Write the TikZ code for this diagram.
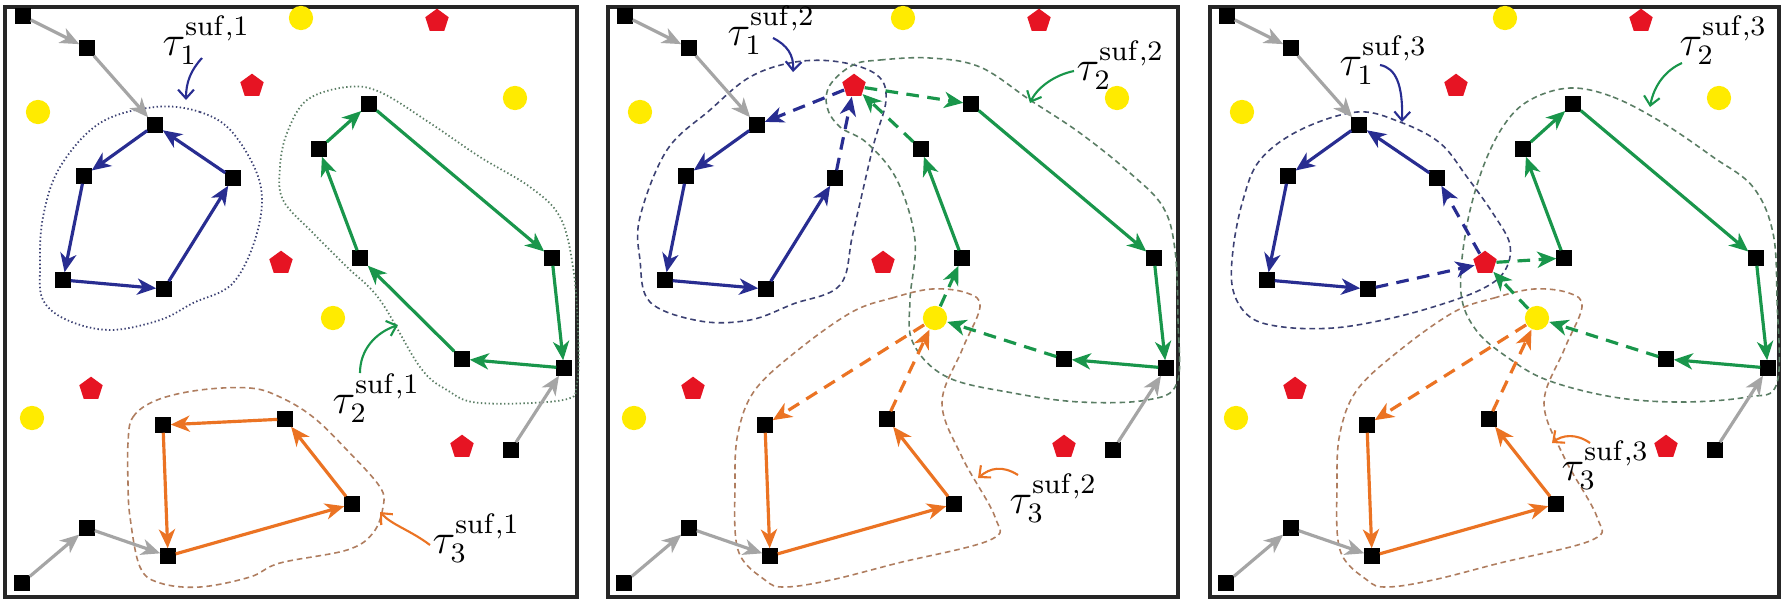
\documentclass[tikz,border=0pt]{standalone}
\usetikzlibrary{arrows.meta,shapes.geometric}
\definecolor{pblue}{RGB}{40,45,145}
\definecolor{pgreen}{RGB}{25,150,75}
\definecolor{porange}{RGB}{235,115,35}
\definecolor{pgray}{RGB}{165,165,165}
\definecolor{pyellow}{RGB}{255,235,0}
\definecolor{pred}{RGB}{230,20,35}
\definecolor{bdblue}{RGB}{60,65,115}
\definecolor{bdgreen}{RGB}{90,125,100}
\definecolor{bdorange}{RGB}{175,125,95}
\tikzset{
 sq/.style={fill=black, minimum size=4.4pt, inner sep=0pt, outer sep=0pt},
 yel/.style={circle, fill=pyellow, minimum size=6.9pt, inner sep=0pt},
 redp/.style={regular polygon, regular polygon sides=5, fill=pred, minimum size=7pt, inner sep=0pt},
 arrtip/.style={-{Stealth[length=5.4pt,width=4.6pt,inset=1.6pt]}},
 mv/.style={arrtip, line width=0.9pt},
 grayarr/.style={mv, draw=pgray},
 blu/.style={mv, draw=pblue},
 grn/.style={mv, draw=pgreen},
 org/.style={mv, draw=porange},
 dsh/.style={dash pattern=on 3.6pt off 2.4pt},
 bd/.style={line width=0.45pt, dash pattern=on 1.6pt off 1.1pt},
 dotb/.style={line width=0.5pt, dash pattern=on 0.4pt off 0.7pt},
 ptr/.style={line width=0.6pt, -{Straight Barb[length=2.5pt,width=4.5pt]}},
 lab/.style={font=\large, inner sep=0pt, anchor=base west},
 panelframe/.style={line width=1.1pt, draw=black!85},
}
\newcommand\EnvNodes{%
 \node[sq] (g1) at (23,16) {};
 \node[sq] (g2) at (87,48) {};
 \node[sq] (b1) at (155,125) {};
 \node[sq] (b2) at (84,176) {};
 \node[sq] (b3) at (63,280) {};
 \node[sq] (b4) at (164,289) {};
 \node[sq] (b5) at (233,178) {};
 \node[sq] (k1) at (369,104) {};
 \node[sq] (k2) at (319,149) {};
 \node[sq] (k3) at (360,258) {};
 \node[sq] (k4) at (552,258) {};
 \node[sq] (k5) at (462,359) {};
 \node[sq] (k6) at (564,368) {};
 \node[sq] (o1) at (163,425) {};
 \node[sq] (o2) at (285,419) {};
 \node[sq] (o3) at (352,504) {};
 \node[sq] (o4) at (168,556) {};
 \node[sq] (g3) at (87,528) {};
 \node[sq] (g4) at (22,583) {};
 \node[sq] (g5) at (511,450) {};
 \node[yel] (y1) at (301,18) {};
 \node[yel] (y2) at (38,112) {};
 \node[yel] (y3) at (515,98) {};
 \node[yel] (y4) at (333,318) {};
 \node[yel] (y5) at (32,418) {};
 \node[redp] (r0) at (437,21) {};
 \node[redp] (r1) at (252,86) {};
 \node[redp] (r2) at (281,263) {};
 \node[redp] (r3) at (91,389) {};
 \node[redp] (r4) at (462,447) {};
 \draw[grayarr] (g1) -- (g2);
 \draw[grayarr] (g2) -- (b1);
 \draw[grayarr] (g4) -- (g3);
 \draw[grayarr] (g3) -- (o4);
 \draw[grayarr] (g5) -- (k6);
}
\newcommand\OrangeBd{%
 \draw[bd, bdorange] plot[smooth cycle, tension=0.6] coordinates {(250,312) (290,298) (330,289) (365,293) (378,307) (360,350) (340,403) (360,457) (393,517) (388,540) (296,563) (229,580) (183,587) (163,580) (136,550) (133,483) (136,433) (153,390) (196,350)};
}
\begin{document}
\begin{tikzpicture}[x=0.01cm,y=-0.01cm]
\fill[white] (0,0) rectangle (1787,599);
\useasboundingbox (0,0) rectangle (1787,599);
% ---------------- panel 1
\begin{scope}[name prefix=A]
 \draw[panelframe] (5,7) rectangle (577,597);
 \draw[dotb, bdblue] plot[smooth cycle, tension=0.6] coordinates {(155,107) (200,112) (233,133) (260,183) (257,233) (233,283) (193,303) (160,320) (110,330) (67,320) (43,300) (40,267) (43,217) (60,167) (100,123)};
 \draw[dotb, bdgreen] plot[smooth cycle, tension=0.6] coordinates {(347,87) (380,92) (430,123) (480,157) (530,187) (560,217) (573,267) (578,330) (577,383) (563,400) (480,403) (447,390) (420,367) (380,300) (347,267) (313,233) (283,200) (280,167) (287,133) (307,100)};
 \draw[bd, bdorange] plot[smooth cycle, tension=0.6] coordinates {(128,443) (133,417) (157,400) (200,390) (250,388) (280,397) (313,417) (347,450) (380,487) (383,507) (373,533) (347,550) (280,563) (250,577) (200,587) (160,583) (140,567) (130,517) (128,483)};
 \EnvNodes
 \foreach \a/\b in {b1/b2,b2/b3,b3/b4,b4/b5,b5/b1} \draw[blu] (\a) -- (\b);
 \foreach \a/\b in {k6/k5,k5/k3,k3/k2,k2/k1,k1/k4,k4/k6} \draw[grn] (\a) -- (\b);
 \foreach \a/\b in {o4/o3,o3/o2,o2/o1,o1/o4} \draw[org] (\a) -- (\b);
 \node[lab] (l1) at (162,55) {$\tau_1^{\mathrm{suf},1}$};
 \node[lab] (l2) at (332,413) {$\tau_2^{\mathrm{suf},1}$};
 \node[lab] (l3) at (432,553) {$\tau_3^{\mathrm{suf},1}$};
 \coordinate (s1) at (202,58); \coordinate (e1) at (186,100);
 \coordinate (s2) at (360,373); \coordinate (e2) at (398,325);
 \coordinate (s3) at (430,545); \coordinate (e3) at (380,512);
 \draw[ptr, pblue] (s1) .. controls (191,70) and (186,82) .. (e1);
 \draw[ptr, pgreen] (s2) .. controls (360,350) and (375,333) .. (e2);
 \draw[ptr, porange] (s3) .. controls (410,530) and (392,525) .. (e3);
\end{scope}
% ---------------- panel 2
\begin{scope}[shift={(602,0)}, name prefix=B]
 \draw[panelframe] (6,7) rectangle (576,597);
 \draw[bd, bdblue] plot[smooth cycle, tension=0.6] coordinates {(148,77) (193,62) (238,62) (275,75) (284,100) (271,147) (251,233) (238,285) (191,304) (148,320) (98,321) (48,302) (38,260) (38,217) (65,150) (108,110)};
 \draw[bd, bdgreen] plot[smooth cycle, tension=0.6] coordinates {(251,65) (278,60) (328,58) (378,67) (428,100) (478,133) (528,173) (561,207) (573,250) (576,320) (575,383) (545,400) (478,402) (411,393) (345,377) (311,343) (308,300) (313,240) (295,180) (265,143) (238,127) (225,107) (228,85)};
 \OrangeBd
 \EnvNodes
 \foreach \a/\b in {b1/b2,b2/b3,b3/b4,b4/b5} \draw[blu] (\a) -- (\b);
 \foreach \a/\b in {b5/r1,r1/b1} \draw[blu, dsh] (\a) -- (\b);
 \foreach \a/\b in {k6/k5,k3/k2,k1/k4,k4/k6} \draw[grn] (\a) -- (\b);
 \foreach \a/\b in {k5/y4,y4/k3,k2/r1,r1/k1} \draw[grn, dsh] (\a) -- (\b);
 \foreach \a/\b in {o4/o3,o3/o2,o1/o4} \draw[org] (\a) -- (\b);
 \foreach \a/\b in {o2/y4,y4/o1} \draw[org, dsh] (\a) -- (\b);
 \node[lab] (l1) at (125,45) {$\tau_1^{\mathrm{suf},2}$};
 \node[lab] (l2) at (474,80) {$\tau_2^{\mathrm{suf},2}$};
 \node[lab] (l3) at (407,513) {$\tau_3^{\mathrm{suf},2}$};
 \coordinate (s1) at (171,38); \coordinate (e1) at (191,72);
 \coordinate (s2) at (472,71); \coordinate (e2) at (428,103);
 \coordinate (s3) at (416,475); \coordinate (e3) at (376,478);
 \draw[ptr, pblue] (s1) .. controls (185,45) and (192,55) .. (e1);
 \draw[ptr, pgreen] (s2) .. controls (452,75) and (435,88) .. (e2);
 \draw[ptr, porange] (s3) .. controls (400,465) and (388,468) .. (e3);
\end{scope}
% ---------------- panel 3
\begin{scope}[shift={(1204,0)}, name prefix=C]
 \draw[panelframe] (6,7) rectangle (575,597);
 \draw[bd, bdblue] plot[smooth cycle, tension=0.6] coordinates {(153,112) (196,122) (236,143) (263,177) (290,215) (306,245) (300,272) (276,290) (229,307) (179,320) (129,328) (79,327) (46,317) (29,290) (29,250) (39,200) (56,160) (96,130)};
 \draw[bd, bdgreen] plot[smooth cycle, tension=0.6] coordinates {(366,88) (409,97) (459,123) (509,157) (549,187) (569,233) (573,300) (573,383) (543,397) (476,402) (409,397) (343,380) (303,357) (272,330) (257,293) (262,230) (278,170) (300,125) (326,100)};
 \OrangeBd
 \EnvNodes
 \foreach \a/\b in {b1/b2,b2/b3,b3/b4,b5/b1} \draw[blu] (\a) -- (\b);
 \foreach \a/\b in {b4/r2,r2/b5} \draw[blu, dsh] (\a) -- (\b);
 \foreach \a/\b in {k6/k5,k3/k2,k2/k1,k1/k4,k4/k6} \draw[grn] (\a) -- (\b);
 \foreach \a/\b in {k5/y4,y4/r2,r2/k3} \draw[grn, dsh] (\a) -- (\b);
 \foreach \a/\b in {o4/o3,o3/o2,o1/o4} \draw[org] (\a) -- (\b);
 \foreach \a/\b in {o2/y4,y4/o1} \draw[org, dsh] (\a) -- (\b);
 \node[lab] (l1) at (135,75) {$\tau_1^{\mathrm{suf},3}$};
 \node[lab] (l2) at (475,55) {$\tau_2^{\mathrm{suf},3}$};
 \node[lab] (l3) at (357,480) {$\tau_3^{\mathrm{suf},3}$};
 \coordinate (s1) at (176,65); \coordinate (e1) at (198,122);
 \coordinate (s2) at (478,63); \coordinate (e2) at (446,107);
 \coordinate (s3) at (386,443); \coordinate (e3) at (348,443);
 \draw[ptr, pblue] (s1) .. controls (192,68) and (199,85) .. (e1);
 \draw[ptr, pgreen] (s2) .. controls (462,70) and (450,85) .. (e2);
 \draw[ptr, porange] (s3) .. controls (372,433) and (358,435) .. (e3);
\end{scope}
\end{tikzpicture}
\end{document}
